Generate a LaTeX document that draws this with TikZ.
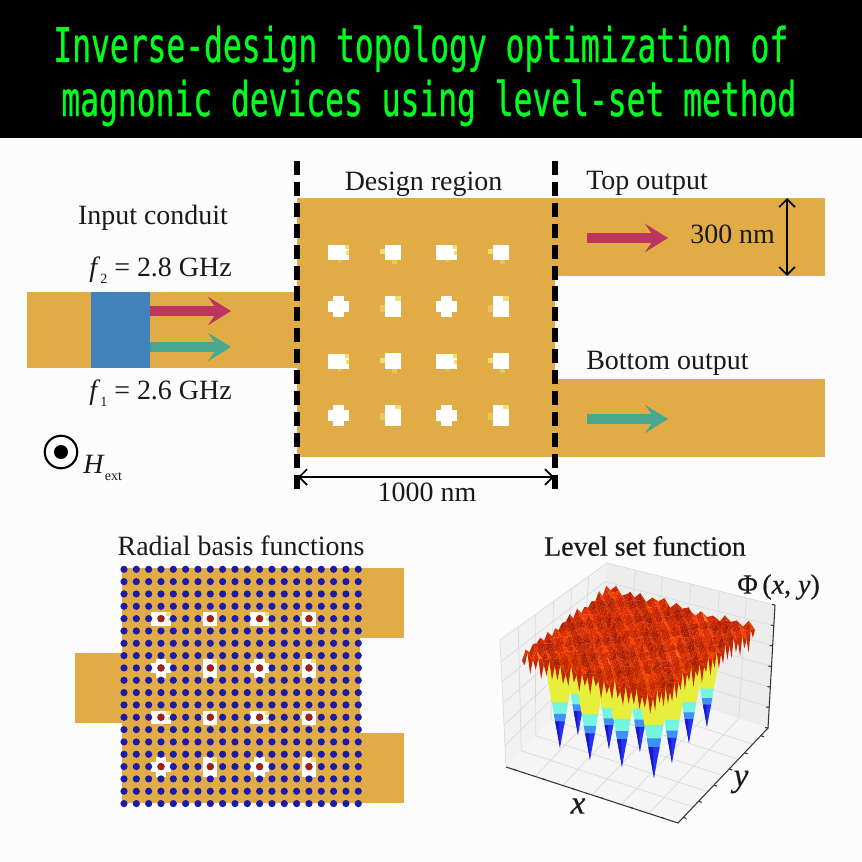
\documentclass[tikz,border=0pt]{standalone}
\usepackage{fontspec}
\setmainfont{Liberation Serif}
\newfontfamily\bannerfont[FakeStretch=0.655,FakeBold=0.6]{DejaVu Sans Mono}
\usepackage{xcolor}
\usetikzlibrary{positioning,calc,arrows.meta}
\definecolor{gold}{HTML}{E1AC46}
\definecolor{srcblue}{HTML}{4282BC}
\definecolor{wavered}{HTML}{BE3461}
\definecolor{wavegreen}{HTML}{47A88F}
\definecolor{fringe}{HTML}{F1DE72}
\definecolor{fringeb}{HTML}{E9C65C}
\definecolor{rbfblue}{HTML}{1B1BA6}
\definecolor{rbfred}{HTML}{A3200C}
\definecolor{lev0}{HTML}{AC1E00}
\definecolor{lev1}{HTML}{C42600}
\definecolor{lev2}{HTML}{DC2E00}
\definecolor{lev3}{HTML}{F24000}
\definecolor{lev4}{HTML}{FF7A12}
\definecolor{jetyellow}{HTML}{E6F03C}
\definecolor{jetcyan}{HTML}{74F5E0}
\definecolor{jetsky}{HTML}{4090F5}
\definecolor{jetblue}{HTML}{2233F5}
\definecolor{jetnavy}{HTML}{1818C8}
\tikzstyle{lab} = [inner sep=0pt,text=black!90,font=\fontsize{15.9}{18}\selectfont]
\tikzstyle{guide} = [fill=gold]
\tikzstyle{hole} = [fill=white]
\tikzstyle{bound} = [line width=3pt,dash pattern=on 8pt off 3.9pt]
\tikzstyle{dim} = [line width=.95pt,{Straight Barb[length=4.5pt,width=9pt]}-{Straight Barb[length=4.5pt,width=9pt]}]
\tikzstyle{wave} = [line width=5.2pt,-{Stealth[length=13pt,width=16pt,inset=5.5pt]}]
\tikzstyle{pane} = [draw=black!14,line width=.4pt]
\tikzstyle{paxis} = [draw=black!80,line width=.6pt]
% one hole of the design region, 1 wide 2 square 3 plus 4 tall
\newcommand\drawhole[1]{%
	\ifcase#1\or
		\fill[fringeb] (-1,7) rectangle (2,10);
		\fill[hole] (-10.5,-7.5) rectangle (10.5,7.5);
		\fill[fringe] (6,-7.5) rectangle (10.5,-3);
		\fill[fringe] (7.5,-1) rectangle (10.5,3);
	\or
		\fill[fringe] (-13,-3) rectangle (-7.5,2);
		\fill[fringeb] (-1,7.5) rectangle (4,12);
		\fill[hole] (-7.8,-7.8) rectangle (7.8,7.8);
	\or
		\fill[hole] (-10.5,-5.5) rectangle (10.5,5.5);
		\fill[hole] (-5.5,-10.5) rectangle (5.5,10.5);
	\or
		\fill[fringeb] (-13,-2) rectangle (-7.8,5);
		\fill[hole] (-7.8,-10.5) rectangle (7.8,10.5);
		\fill[fringe] (2,-10.5) rectangle (7.8,-6);
	\fi}
\newcommand\drawholes{%
	\foreach \hrow/\hy in {1/252.3,2/306.7,3/361,4/415.3}
		\foreach \hcol/\hx in {1/338.5,2/392.7,3/446.7,4/501}{
			\pgfmathtruncatemacro\hkind{2*mod(\hrow+1,2)+mod(\hcol+1,2)+1}
			\begin{scope}[shift={(\hx,\hy)}]\drawhole{\hkind}\end{scope}
		}}
% one well of the level set surface, tip at #1,#2
\newcommand\lsspike[3]{%
	\begin{scope}[shift={(#1,#2)},scale=#3]
		\fill[jetyellow] (-17,-95) -- (17,-95) -- (8.5,-47) -- (0,-30) -- (-8.5,-47) -- cycle;
		\fill[jetcyan] (-8.5,-48) -- (8.5,-48) -- (5.5,-30) -- (0,-15) -- (-5.5,-30) -- cycle;
		\fill[jetsky] (-6.5,-36) -- (6.5,-36) -- (4.5,-24) -- (0,-12) -- (-4.5,-24) -- cycle;
		\fill[jetblue] (-5,-28) -- (5,-28) -- (0,0) -- cycle;
		\fill[jetnavy] (-5,-28) -- (-1,-28) -- (0,0) -- cycle;
	\end{scope}}
\pgfmathdeclarefunction{lsnoise}{2}{%
	\pgfmathparse{.45*(2*mod(#1+#2,2)-1)+.3*sin(97*#1+41*#2)+.25*sin(7*#1*#2+131*#2-29*#1)}}
\begin{document}
\begin{tikzpicture}[x=0.02cm,y=-0.02cm]
	\useasboundingbox (0,0) rectangle (862,862);
	\fill[black!1] (0,0) rectangle (862,862);
	\fill[black] (0,0) rectangle (862,138);
	\node[anchor=base west,inner sep=0pt,text={rgb,255:red,0;green,255;blue,30},font=\bannerfont\fontsize{27.2}{30}\selectfont] (title1) at (53,62) {Inverse-design topology optimization of};
	\node[anchor=base west,inner sep=0pt,text={rgb,255:red,0;green,255;blue,30},font=\bannerfont\fontsize{27.2}{30}\selectfont] (title2) at (61,116) {magnonic devices using level-set method};
	% main device
	\fill[guide] (27,292) rectangle (297,368);
	\fill[guide] (297,198) rectangle (555,457);
	\fill[guide] (555,198) rectangle (825,276);
	\fill[guide] (555,379) rectangle (825,457);
	\fill[srcblue] (90.5,292) rectangle (150,368);
	\drawholes
	\coordinate (b1t) at (297,161);
	\coordinate (b1b) at (297,490);
	\coordinate (b2t) at (555,161);
	\coordinate (b2b) at (555,490);
	\draw[bound] (b1t) -- (b1b);
	\draw[bound] (b2t) -- (b2b);
	\coordinate (in2a) at (150,311);
	\coordinate (in2b) at (231,311);
	\coordinate (in1a) at (150,347);
	\coordinate (in1b) at (231,347);
	\coordinate (out2a) at (587,238);
	\coordinate (out2b) at (668,238);
	\coordinate (out1a) at (587,419);
	\coordinate (out1b) at (668,419);
	\draw[wave,wavered] (in2a) -- (in2b);
	\draw[wave,wavegreen] (in1a) -- (in1b);
	\draw[wave,wavered] (out2a) -- (out2b);
	\draw[wave,wavegreen] (out1a) -- (out1b);
	\coordinate (w1) at (787,198);
	\coordinate (w2) at (787,276);
	\coordinate (l1) at (298,477);
	\coordinate (l2) at (554,477);
	\draw[dim] (w1) -- (w2);
	\draw[dim] (l1) -- (l2);
	\node[lab] (input) at (153,218) {Input conduit};
	\node[lab] (f2) at (160.5,270) {\textit{f}\raisebox{-.5ex}{\fontsize{8}{8}\selectfont 2} = 2.8 GHz};
	\node[lab] (f1) at (160.5,393) {\textit{f}\raisebox{-.5ex}{\fontsize{8}{8}\selectfont 1} = 2.6 GHz};
	\node[lab] (design) at (423.5,184) {Design region};
	\node[lab,anchor=west] (top) at (586,183) {Top output};
	\node[lab,anchor=west] (bottom) at (586,363) {Bottom output};
	\node[lab,anchor=west] (width) at (690,234) {300 nm};
	\node[lab] (length) at (427,492) {1000 nm};
	\node[circle,draw=black,line width=1.2pt,minimum size=18.5pt,inner sep=0pt] (field) at (61,452) {};
	\fill[black] (field.center) circle (7);
	\node[lab,anchor=west] (hext) at (83,468) {\textit{H}\raisebox{-.5ex}{\fontsize{8}{8}\selectfont ext}};
	% radial basis functions
	\fill[guide] (75,653) rectangle (124,723);
	\fill[guide] (122,568) rectangle (360,803);
	\fill[guide] (360,568) rectangle (404,638);
	\fill[guide] (360,733) rectangle (404,803);
	\begin{scope}[shift={(-147,389.1)},scale=.91]
		\drawholes
	\end{scope}
	\foreach \i in {0,...,19}
		\foreach \j in {0,...,19}
			\fill[rbfblue] (124+12.33*\i,569.3+12.33*\j) circle (3.6);
	\foreach \i in {3,7,11,15}
		\foreach \j in {4,8,12,16}
			\fill[rbfred] (124+12.33*\i,569.3+12.33*\j) circle (3.6);
	\node[lab] (rbf) at (241,546) {Radial basis functions};
	% level set function
	\coordinate (fl) at (506,767);
	\coordinate (ff) at (678,823);
	\coordinate (fr) at (768,728);
	\coordinate (fb) at (596,672);
	\coordinate (tl) at (500,640);
	\coordinate (tb) at (607,563);
	\coordinate (tr) at (775,605);
	\fill[black!5] (tl) -- (tb) -- (fb) -- (fl) -- cycle;
	\fill[black!7] (tb) -- (tr) -- (fr) -- (fb) -- cycle;
	\fill[black!4] (fl) -- (fb) -- (fr) -- (ff) -- cycle;
	\foreach \t in {.17,.33,.5,.67,.83}{
		\draw[pane] ($(fl)!\t!(ff)$) -- ($(fb)!\t!(fr)$) -- ($(tb)!\t!(tr)$);
		\draw[pane] ($(ff)!\t!(fr)$) -- ($(fl)!\t!(fb)$) -- ($(tl)!\t!(tb)$);
		\draw[pane] ($(fl)!\t!(tl)$) -- ($(fb)!\t!(tb)$) -- ($(fr)!\t!(tr)$);
	}
	\draw[pane] (tl) -- (tb) -- (tr);
	\draw[pane] (fl) -- (tl);
	\draw[paxis] (fl) -- (ff) -- (fr) -- (tr);
	\foreach \t in {.06,.23,.4,.57,.74,.92}{
		\draw[paxis] ($(fl)!\t!(ff)$) -- ++(-3,-1.2);
		\draw[paxis] ($(ff)!\t!(fr)$) -- ++(3,1.2);
	}
	\foreach \t in {0,.167,.333,.5,.667,.833,1}
		\draw[paxis] ($(fr)!\t!(tr)$) -- ++(-3,-.5);
	\lsspike{578}{735}{.85}
	\lsspike{609}{749}{.85}
	\lsspike{640}{752}{.9}
	\lsspike{707}{727}{.8}
	\lsspike{689}{743}{.85}
	\lsspike{560}{748}{.95}
	\lsspike{590}{760}{.95}
	\lsspike{622}{767}{1}
	\lsspike{672}{763}{.9}
	\lsspike{654}{778}{1.1}
	% surface vertices, u from back to right, v from back to left
	\def\lsn{24}
	\foreach \i in {0,...,\lsn}
		\foreach \j in {0,...,\lsn}{
			\pgfmathsetmacro\u{\i/\lsn}
			\pgfmathsetmacro\v{\j/\lsn}
			\pgfmathsetmacro\sx{(1-\u)*(1-\v)*610+\u*(1-\v)*755+(1-\u)*\v*522+\u*\v*653}
			\pgfmathsetmacro\sy{(1-\u)*(1-\v)*588+\u*(1-\v)*628+(1-\u)*\v*655+\u*\v*697-6*lsnoise(\i,\j)}
			\coordinate (s-\i-\j) at (\sx,\sy);
		}
	\foreach \i in {0,...,23}{
		\pgfmathtruncatemacro\ii{\i+1}
		\pgfmathsetmacro\tlen{8+10*abs(sin(83*\i))}
		\fill[lev1] (s-\i-\lsn) -- (s-\ii-\lsn) -- ($(s-\i-\lsn)!.5!(s-\ii-\lsn)+(0,\tlen)$) -- cycle;
		\fill[lev1] (s-\lsn-\i) -- (s-\lsn-\ii) -- ($(s-\lsn-\i)!.5!(s-\lsn-\ii)+(0,\tlen)$) -- cycle;
	}
	\foreach \i in {0,...,23}{
		\pgfmathtruncatemacro\ii{\i+1}
		\foreach \j in {0,...,23}{
			\pgfmathtruncatemacro\jj{\j+1}
			\pgfmathtruncatemacro\ka{max(0,min(4,2.1+1.1*lsnoise(\i,\j)+1.2*sin(50*\i+25)*sin(50*\j+25)))}
			\pgfmathtruncatemacro\kb{max(0,min(4,1.8+1.1*lsnoise(\j,\ii)+1.2*sin(50*\i+25)*sin(50*\j+25)))}
			\fill[lev\ka] (s-\i-\j) -- (s-\ii-\j) -- (s-\ii-\jj) -- cycle;
			\fill[lev\kb] (s-\i-\j) -- (s-\i-\jj) -- (s-\ii-\jj) -- cycle;
		}
	}
	\node[lab,font=\fontsize{15.9}{18}\selectfont\addfontfeatures{FakeBold=.5}] (lsf) at (645,546) {Level set function};
	\node[lab,anchor=west,font=\fontsize{15.9}{18}\selectfont\addfontfeatures{FakeBold=.4}] (phi) at (737,587) {Φ\,(\textit{x}, \textit{y})};
	\node[lab,font=\fontsize{19}{20}\selectfont\itshape\addfontfeatures{FakeBold=.4}] (xaxis) at (578,806) {x};
	\node[lab,font=\fontsize{19}{20}\selectfont\itshape\addfontfeatures{FakeBold=.4}] (yaxis) at (741,782) {y};
\end{tikzpicture}
\end{document}
